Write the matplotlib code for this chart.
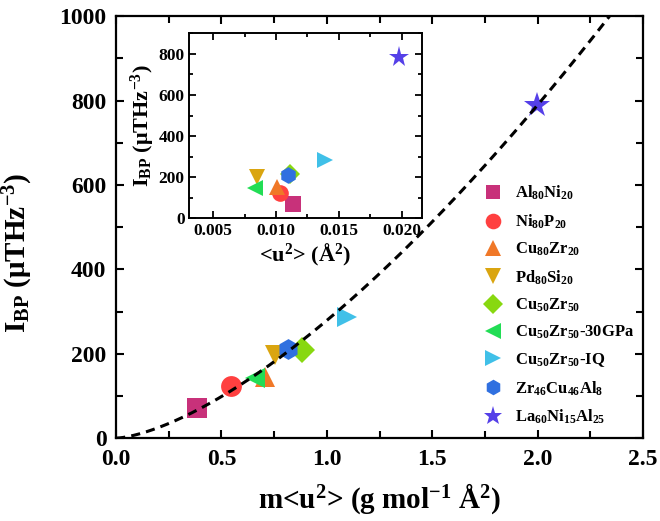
import numpy as np
import matplotlib
matplotlib.use('Agg')
import matplotlib.pyplot as plt
from matplotlib.ticker import MultipleLocator

plt.rcParams['font.family'] = 'Liberation Serif'
plt.rcParams['font.weight'] = 'bold'
plt.rcParams['mathtext.fontset'] = 'custom'
plt.rcParams['mathtext.rm'] = 'Liberation Serif:bold'
plt.rcParams['mathtext.bf'] = 'Liberation Serif:bold'
plt.rcParams['mathtext.it'] = 'Liberation Serif:italic:bold'
plt.rcParams['mathtext.default'] = 'bf'

# samples
labels = ['Al$_{80}$Ni$_{20}$', 'Ni$_{80}$P$_{20}$', 'Cu$_{80}$Zr$_{20}$', 'Pd$_{80}$Si$_{20}$',
          'Cu$_{50}$Zr$_{50}$', 'Cu$_{50}$Zr$_{50}$-30GPa', 'Cu$_{50}$Zr$_{50}$-IQ',
          'Zr$_{46}$Cu$_{46}$Al$_{8}$', 'La$_{60}$Ni$_{15}$Al$_{25}$']
markers = ['s', 'o', '^', 'v', 'D', '<', '>', 'h', '*']
colors = ['#c8317a', '#ff4040', '#f07828', '#daa510', '#88d810', '#22dd55', '#40c0e8', '#3070e0', '#5540e8']

# main panel: m<u^2> vs I_BP
mu2 = [0.384, 0.546, 0.707, 0.754, 0.881, 0.659, 1.094, 0.815, 1.996]
ibp = [71, 123, 145, 198, 210, 142, 286, 212, 789]

# inset: <u^2> vs I_BP
u2 = [0.01133, 0.0103, 0.0101, 0.00847, 0.0111, 0.00833, 0.01389, 0.01098, 0.0198]
ibp_ins = [69, 121, 153, 200, 215, 146, 283, 210, 785]

# power law fit I = a * x^b
fit_a = 279.0
fit_b = 1.5

fig = plt.figure(figsize=(6.6, 5.21), dpi=100)
ax = fig.add_axes([0.176, 0.159, 0.798, 0.81])

sizes = [14, 15, 15, 15, 13, 15, 15, 15, 19]
for i in range(len(labels)):
    ax.plot(mu2[i], ibp[i], linestyle='none', marker=markers[i], color=colors[i],
            markersize=sizes[i], markeredgewidth=0, label=labels[i], zorder=3)

xf = np.linspace(0, 2.5, 300)
ax.plot(xf, fit_a * xf**fit_b, 'k--', lw=2.2, dashes=(3, 2), zorder=4)

ax.set_xlim(0, 2.5)
ax.set_ylim(0, 1000)
ax.xaxis.set_major_locator(MultipleLocator(0.5))
ax.xaxis.set_minor_locator(MultipleLocator(0.25))
ax.yaxis.set_major_locator(MultipleLocator(200))
ax.yaxis.set_minor_locator(MultipleLocator(100))
ax.tick_params(which='both', direction='in', top=True, right=True, width=1.5, labelsize=17)
ax.tick_params(which='major', length=6)
ax.tick_params(which='minor', length=5)
ax.tick_params(axis='x', pad=8)
ax.tick_params(axis='y', pad=7)
for s in ax.spines.values():
    s.set_linewidth(1.6)
ax.set_xlabel('m<u$^{2}$> (g mol$^{-1}$ Å$^{2}$)', fontsize=21, fontweight='bold', labelpad=8)
ax.set_ylabel('I$_{BP}$ (μTHz$^{-3}$)', fontsize=21, fontweight='bold')
ax.yaxis.set_label_coords(-0.155, 0.44)

leg = ax.legend(loc='upper left', bbox_to_anchor=(0.675, 0.63), frameon=False,
                fontsize=12, markerscale=0.75, labelspacing=0.6, handletextpad=0.7,
                handlelength=1.2, borderpad=0.2)

# inset
axi = fig.add_axes([0.287, 0.581, 0.352, 0.355])
for i in range(len(labels)):
    axi.plot(u2[i], ibp_ins[i], linestyle='none', marker=markers[i], color=colors[i],
             markersize=sizes[i] * 0.8, markeredgewidth=0)
axi.set_xlim(0.0031, 0.0216)
axi.set_ylim(0, 900)
axi.xaxis.set_major_locator(MultipleLocator(0.005))
axi.xaxis.set_minor_locator(MultipleLocator(0.0025))
axi.yaxis.set_major_locator(MultipleLocator(200))
axi.yaxis.set_minor_locator(MultipleLocator(100))
axi.tick_params(which='both', direction='in', top=True, right=True, width=1.3, labelsize=12.5)
axi.tick_params(which='major', length=5)
axi.tick_params(which='minor', length=3)
for s in axi.spines.values():
    s.set_linewidth(1.4)
axi.set_xlabel('<u$^{2}$> (Å$^{2}$)', fontsize=16, fontweight='bold', labelpad=2)
axi.set_ylabel('I$_{BP}$ (μTHz$^{-3}$)', fontsize=16, fontweight='bold', labelpad=1)

fig.savefig('out.png', dpi=100)
